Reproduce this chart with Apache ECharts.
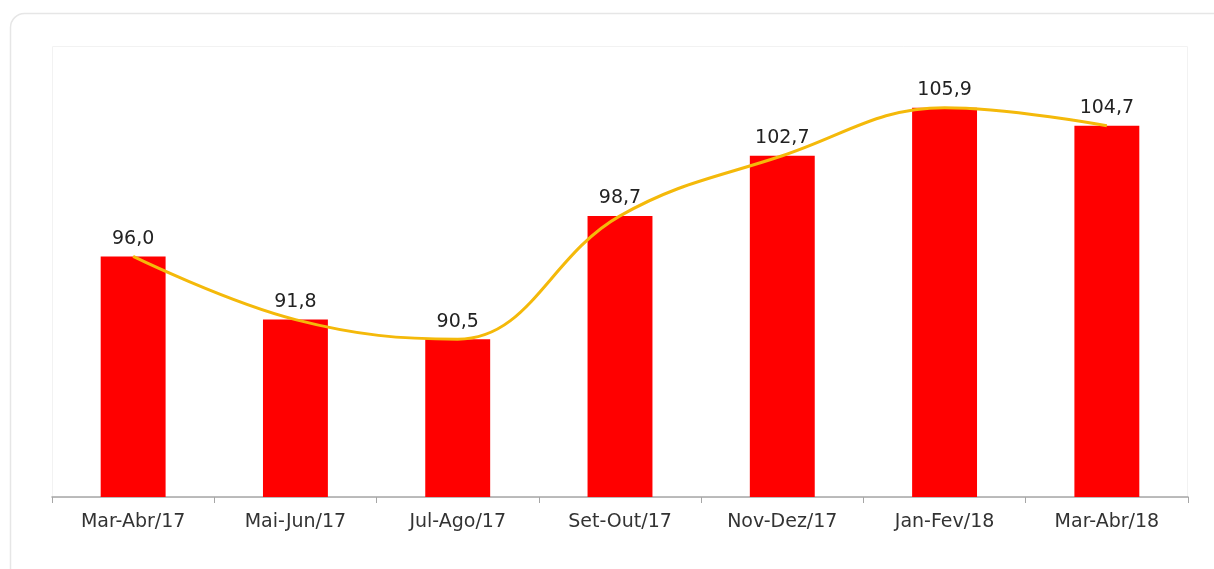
<!DOCTYPE html>
<html><head><meta charset="utf-8">
<script src="https://cdn.jsdelivr.net/npm/echarts@6/dist/echarts.min.js"></script>
<style>html,body{margin:0;padding:0;background:#fff}#c{width:1214px;height:569px}</style>
</head><body><div id="c"></div>
<script>
var categories = ['Mar-Abr/17','Mai-Jun/17','Jul-Ago/17','Set-Out/17','Nov-Dez/17','Jan-Fev/18','Mar-Abr/18'];
var values = [96.0, 91.8, 90.5, 98.7, 102.7, 105.9, 104.7];
var fmt = function(v){ return v.toFixed(1).replace('.', ','); };
var chart = echarts.init(document.getElementById('c'));
chart.setOption({
  animation: false,
  backgroundColor: '#fff',
  graphic: [
    {type:'rect', shape:{x:10.5,y:13.5,width:1220,height:600,r:14}, style:{fill:'none',stroke:'#e6e6e6',lineWidth:1.5}, z:-10},
    {type:'rect', shape:{x:52.5,y:46.5,width:1135,height:451}, style:{fill:'none',stroke:'#f2f2f2',lineWidth:1}, z:-9}
  ],
  grid: {left:52, right:26, top:46, bottom:72},
  xAxis: {
    type:'category', data:categories,
    axisLine:{lineStyle:{color:'#a6a6a6',width:1.5}},
    axisTick:{show:true,length:6,lineStyle:{color:'#a6a6a6'}},
    axisLabel:{color:'#333',fontFamily:'DejaVu Sans',fontSize:19,margin:16}
  },
  yAxis: {type:'value', min:80, max:110, show:false, splitLine:{show:false}},
  series: [
    {type:'bar', data:values, barWidth:'40%', itemStyle:{color:'#ff0000'},
     label:{show:true,position:'top',distance:8,color:'#222',fontFamily:'DejaVu Sans',fontSize:19,formatter:function(p){return fmt(p.value);}}},
    {type:'line', data:values, smooth:0.4, symbol:'none', lineStyle:{color:'#f4b90a',width:3}, z:5}
  ]
});
</script></body></html>
